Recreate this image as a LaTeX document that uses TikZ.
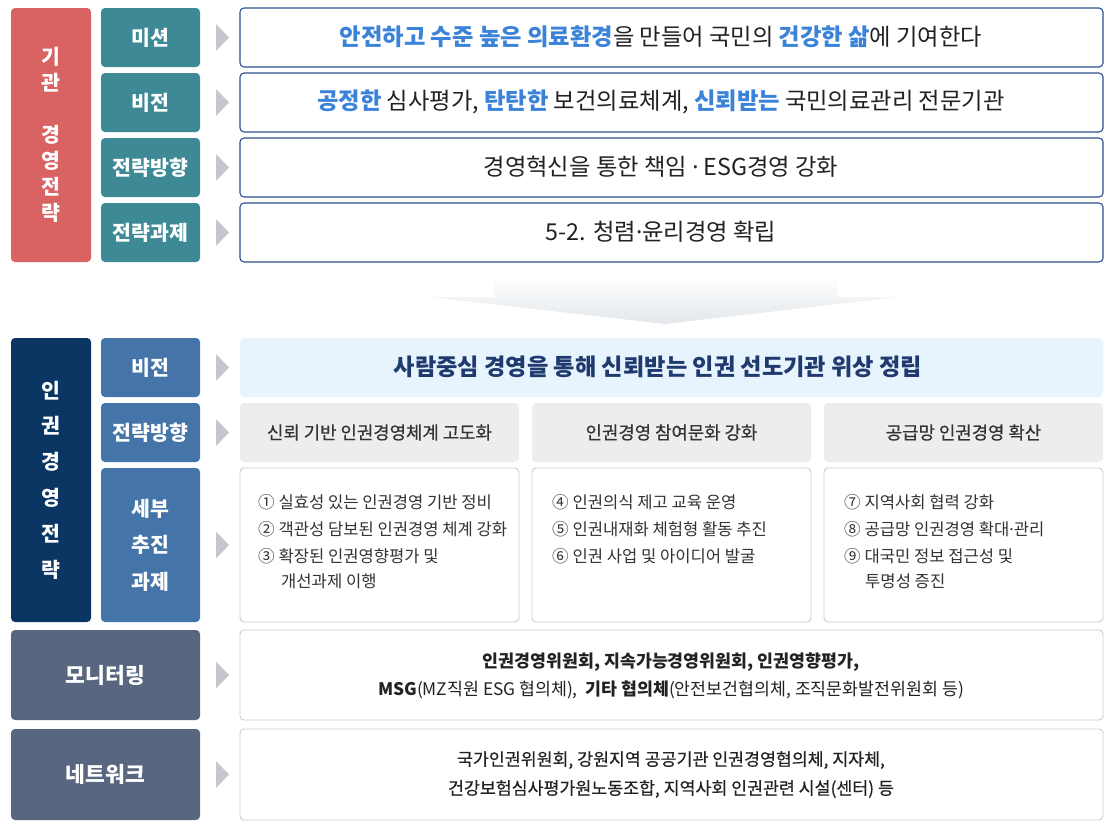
\documentclass[tikz,border=0pt]{standalone}
\usepackage{fontspec}
\setmainfont{Noto Sans CJK KR}
\newfontfamily\kr{Noto Sans CJK KR}
\newfontfamily\latf{Noto Sans}
\newfontfamily\krmed[FakeBold=0.5]{Noto Sans CJK KR}
\usetikzlibrary{calc}
\definecolor{cred}{HTML}{D96262}
\definecolor{cteal}{HTML}{3D8A96}
\definecolor{cborder}{HTML}{2E4F8E}
\definecolor{cbluetext}{HTML}{3A83D9}
\definecolor{cnavy}{HTML}{0B3562}
\definecolor{cmid}{HTML}{4474A8}
\definecolor{cvisfill}{HTML}{E7F3FD}
\definecolor{cvistext}{HTML}{1F3A6E}
\definecolor{cgrayfill}{HTML}{EDEDED}
\definecolor{cgrayline}{HTML}{C9CCCF}
\definecolor{cslate}{HTML}{58667F}
\definecolor{ctri}{HTML}{C4C8CC}
\definecolor{ctext}{HTML}{222222}
\definecolor{cdtext}{HTML}{333333}
\definecolor{carrowbot}{HTML}{E3E7EB}
\tikzset{
  boxbase/.style={rounded corners=4pt, inner sep=0pt, outer sep=0pt, anchor=north west, align=center},
  lbl/.style={boxbase, text=white, font=\bfseries\fontsize{20.5}{24}\selectfont},
  topbox/.style={boxbase, draw=cborder, line width=1.1pt, fill=white},
  graybox/.style={boxbase, fill=cgrayfill, text=cdtext, font=\krmed\fontsize{17.8}{21}\selectfont},
  detbox/.style={boxbase, draw=cgrayline, line width=0.9pt, fill=white},
  toptext/.style={inner sep=0pt, text=ctext, font=\fontsize{23.3}{26}\selectfont},
  dettext/.style={inner sep=0pt, anchor=west, text=cdtext, font=\fontsize{16.6}{19}\selectfont},
  bottext/.style={inner sep=0pt, text=ctext, font=\fontsize{17.3}{20}\selectfont},
  tri/.style={fill=ctri},
}
\newcommand{\bl}[1]{{\color{cbluetext}\bfseries #1}}
\newcommand{\mdot}{{\latf ·}}
\newcommand{\tria}[1]{\fill[tri] ($(#1.east)+(16,-13.5)$) -- ++(13,13.5) -- ++(-13,13.5) -- cycle;}
\begin{document}
\begin{tikzpicture}[x=1pt,y=-1pt]
\useasboundingbox[fill=white] (0,0) rectangle (1110,830);
% ---------- top section ----------
\node[lbl, fill=cred, minimum width=80pt, minimum height=254pt, font=\bfseries\fontsize{20.5}{26}\selectfont] (org) at (11,8) {기\\관\\[26pt]경\\영\\전\\략};
\node[lbl, fill=cteal, minimum width=99pt, minimum height=59pt] (mis) at (101,8) {미션};
\node[lbl, fill=cteal, minimum width=99pt, minimum height=59pt] (vis) at (101,73) {비전};
\node[lbl, fill=cteal, minimum width=99pt, minimum height=59pt] (dir) at (101,138) {전략방향};
\node[lbl, fill=cteal, minimum width=99pt, minimum height=59pt] (tsk) at (101,203) {전략과제};
\node[topbox, minimum width=863pt, minimum height=59pt] (misb) at (240,8) {};
\node[topbox, minimum width=863pt, minimum height=59pt] (visb) at (240,73) {};
\node[topbox, minimum width=863pt, minimum height=59pt] (dirb) at (240,138) {};
\node[topbox, minimum width=863pt, minimum height=59pt] (tskb) at (240,203) {};
\node[toptext] (mist) at (661,37) {\bl{안전하고 수준 높은 의료환경}을 만들어 국민의 \bl{건강한 삶}에 기여한다};
\node[toptext] (vist) at (661,102) {\bl{공정한} 심사평가, \bl{탄탄한} 보건의료체계, \bl{신뢰받는} 국민의료관리 전문기관};
\node[toptext] (dirt) at (661,167) {경영혁신을 통한 책임 \mdot{} ESG경영 강화};
\node[toptext] (tskt) at (661,232) {5-2. 청렴\mdot{}윤리경영 확립};
\tria{mis}\tria{vis}\tria{dir}\tria{tsk}
% ---------- big arrow ----------
\shade[top color=white, bottom color=carrowbot] (494,276) -- (837,276) -- (837,297) -- (898,297) -- (665,324) -- (430,297) -- (494,297) -- cycle;
% ---------- middle section ----------
\node[lbl, fill=cnavy, minimum width=80pt, minimum height=284pt, font=\bfseries\fontsize{20.5}{35.8}\selectfont] (hr) at (11,338) {인\\권\\경\\영\\전\\략};
\node[lbl, fill=cmid, minimum width=99pt, minimum height=59pt] (hvis) at (101,338) {비전};
\node[lbl, fill=cmid, minimum width=99pt, minimum height=59pt] (hdir) at (101,403) {전략방향};
\node[lbl, fill=cmid, minimum width=99pt, minimum height=154pt, font=\bfseries\fontsize{20.5}{36.5}\selectfont] (htsk) at (101,468) {세부\\추진\\과제};
\node[boxbase, fill=cvisfill, minimum width=863pt, minimum height=59pt] (hvisb) at (240,338) {};
\node[inner sep=0pt, text=cvistext, font=\bfseries\fontsize{23.2}{26}\selectfont] (hvist) at (658,367) {사람중심 경영을 통해 신뢰받는 인권 선도기관 위상 정립};
\node[graybox, minimum width=279pt, minimum height=59pt] (d1) at (240,403) {신뢰 기반 인권경영체계 고도화};
\node[graybox, minimum width=279pt, minimum height=59pt] (d2) at (532,403) {인권경영 참여문화 강화};
\node[graybox, minimum width=279pt, minimum height=59pt] (d3) at (824,403) {공급망 인권경영 확산};
\node[detbox, minimum width=279pt, minimum height=154pt] (t1) at (240,468) {};
\node[detbox, minimum width=279pt, minimum height=154pt] (t2) at (532,468) {};
\node[detbox, minimum width=279pt, minimum height=154pt] (t3) at (824,468) {};
\node[dettext] (t1a) at (258,502) {① 실효성 있는 인권경영 기반 정비};
\node[dettext] (t1b) at (258,529) {② 객관성 담보된 인권경영 체계 강화};
\node[dettext] (t1c) at (258,556) {③ 확장된 인권영향평가 및};
\node[dettext] (t1d) at (281,581) {개선과제 이행};
\node[dettext] (t2a) at (552,502) {④ 인권의식 제고 교육 운영};
\node[dettext] (t2b) at (552,529) {⑤ 인권내재화 체험형 활동 추진};
\node[dettext] (t2c) at (552,556) {⑥ 인권 사업 및 아이디어 발굴};
\node[dettext] (t3a) at (844,502) {⑦ 지역사회 협력 강화};
\node[dettext] (t3b) at (844,529) {⑧ 공급망 인권경영 확대\mdot{}관리};
\node[dettext] (t3c) at (844,556) {⑨ 대국민 정보 접근성 및};
\node[dettext] (t3d) at (865,581) {투명성 증진};
\tria{hvis}\tria{hdir}\tria{htsk}
% ---------- bottom section ----------
\node[lbl, fill=cslate, minimum width=189pt, minimum height=90pt, font=\bfseries\fontsize{21.5}{24}\selectfont] (mon) at (11,630) {모니터링};
\node[lbl, fill=cslate, minimum width=189pt, minimum height=91pt, font=\bfseries\fontsize{21.5}{24}\selectfont] (net) at (11,729) {네트워크};
\node[detbox, minimum width=863pt, minimum height=90pt] (monb) at (240,630) {};
\node[detbox, minimum width=863pt, minimum height=91pt] (netb) at (240,729) {};
\node[bottext, font=\bfseries\fontsize{17.3}{20}\selectfont] (mona) at (671,662) {인권경영위원회, 지속가능경영위원회, 인권영향평가,};
\node[bottext] (monc) at (671,690) {\textbf{MSG}(MZ직원 ESG 협의체),\ \ \textbf{기타 협의체}(안전보건협의체, 조직문화발전위원회 등)};
\node[bottext, font=\krmed\fontsize{17.3}{20}\selectfont] (neta) at (671,760) {국가인권위원회, 강원지역 공공기관 인권경영협의체, 지자체,};
\node[bottext, font=\krmed\fontsize{17.3}{20}\selectfont] (netc) at (671,789) {건강보험심사평가원노동조합, 지역사회 인권관련 시설(센터) 등};
\fill[tri] ($(mon.east)+(16,-13.5)$) -- ++(13,13.5) -- ++(-13,13.5) -- cycle;
\fill[tri] ($(net.east)+(16,-13.5)$) -- ++(13,13.5) -- ++(-13,13.5) -- cycle;
\end{tikzpicture}
\end{document}
